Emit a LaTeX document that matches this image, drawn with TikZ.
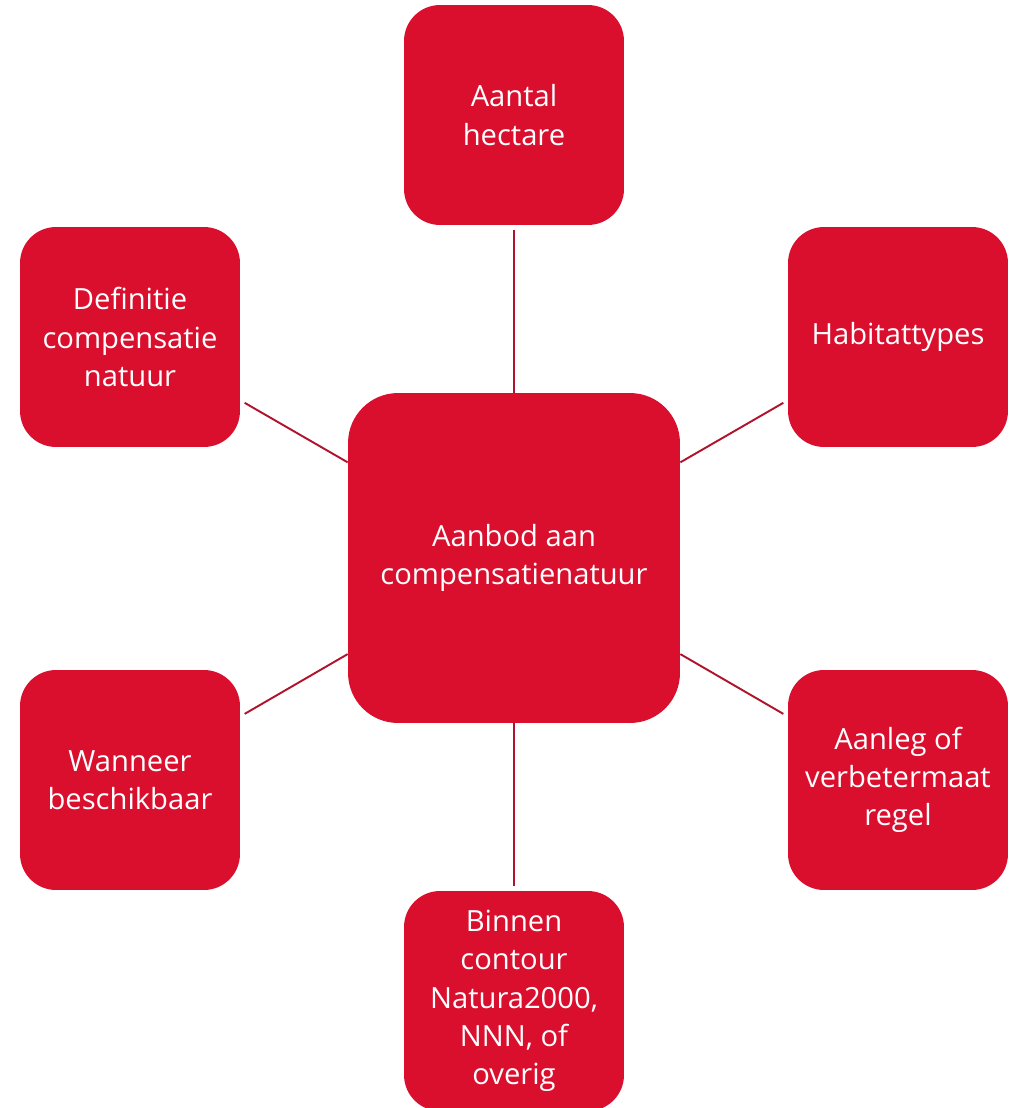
\documentclass[tikz,border=0pt]{standalone}
\usepackage{fontspec}
\setmainfont{Open Sans}
\usepackage{xcolor}
\usepackage{tikz}
\definecolor{boxred}{HTML}{DA0F2E}
\definecolor{linkred}{HTML}{B0142C}
\tikzset{every edge/.style={shorten >=1mm, draw}}
\tikzset{
  item/.style={fill=boxred, text=white, rounded corners=0.72cm, minimum width=4.4cm,
    minimum height=4.4cm, inner sep=0pt, align=center,
    font=\fontsize{16.6}{21.8}\selectfont},
  hub/.style={item, rounded corners=1cm, minimum width=6.64cm, minimum height=6.6cm},
  spoke/.style={linkred, line width=1.1pt}
}

\begin{document}
\begin{tikzpicture}[x=0.02cm, y=-0.02cm]
    \useasboundingbox (0, 0) rectangle (1025, 1108);
    \node[hub] at (514, 558) (aanbod) {Aanbod aan\\compensatienatuur};
    \node[item] at (514, 115) (hectare) {Aantal\\hectare};
    \node[item] at (898, 337) (habitat) {Habitattypes};
    \node[item] at (898, 780) (aanleg) {Aanleg of\\verbetermaat\\regel};
    \node[item] at (514, 1001) (contour) {Binnen\\contour\\Natura2000,\\NNN, of\\overig};
    \node[item] at (130, 780) (wanneer) {Wanneer\\beschikbaar};
    \node[item] at (130, 337) (definitie) {Definitie\\compensatie\\natuur};

    \draw (aanbod) edge[spoke] (hectare);
    \draw (aanbod) edge[spoke] (habitat);
    \draw (aanbod) edge[spoke] (aanleg);
    \draw (aanbod) edge[spoke] (contour);
    \draw (aanbod) edge[spoke] (wanneer);
    \draw (aanbod) edge[spoke] (definitie);
\end{tikzpicture}
\end{document}
